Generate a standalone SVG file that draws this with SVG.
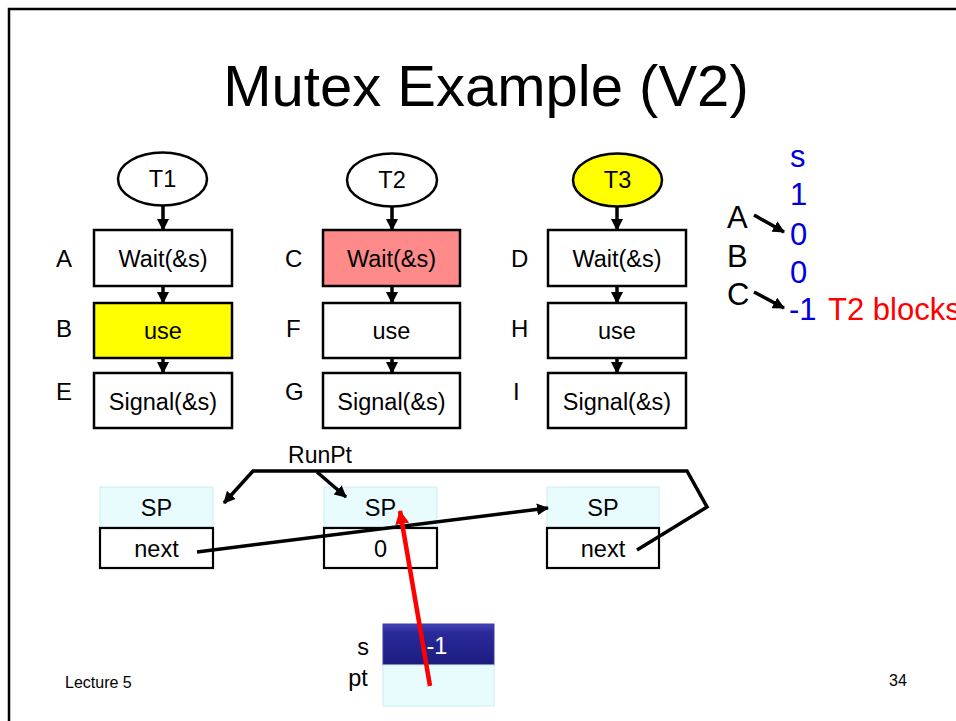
<svg xmlns="http://www.w3.org/2000/svg" width="956" height="721" viewBox="0 0 956 721">
<defs>
<style>
text{font-family:"Liberation Sans",Arial,sans-serif;fill:#000}
.bx{fill:#fff;stroke:#000;stroke-width:2.5}
.lbl{font-size:24px}
.t{font-size:23.5px;text-anchor:middle}
.cy{fill:#E8FBFD;stroke:#CDECF0;stroke-width:1}
.nx{fill:#fff;stroke:#000;stroke-width:2.2}
.ln{fill:none;stroke:#000;stroke-width:3.5;stroke-linejoin:miter}
.blue{fill:#0000DD;font-size:31px}
</style>
<marker id="ah" markerUnits="userSpaceOnUse" markerWidth="12" markerHeight="12" refX="11" refY="6" orient="auto"><path d="M0,0 L12,6 L0,12 z" fill="#000"/></marker>
<marker id="ahr" markerUnits="userSpaceOnUse" markerWidth="14" markerHeight="14" refX="13" refY="7" orient="auto"><path d="M0,0 L14,7 L0,14 z" fill="#f00"/></marker>
<linearGradient id="gb" x1="0" y1="0" x2="0" y2="1"><stop offset="0" stop-color="#4444B8"/><stop offset="0.2" stop-color="#2A2A9C"/><stop offset="1" stop-color="#1C1C7E"/></linearGradient>
</defs>

<g id="frame"><path d="M9,721 L9,9 L956,9" fill="none" stroke="#000" stroke-width="2.5"/></g>

<g id="title"><text x="486" y="106" font-size="58" text-anchor="middle">Mutex Example (V2)</text></g>

<g id="T1"><ellipse cx="162.5" cy="179" rx="44.5" ry="26.5" fill="#fff" stroke="#000" stroke-width="2.5"/><text class="t" x="162.5" y="187">T1</text></g>
<g id="T2"><ellipse cx="392" cy="180" rx="45" ry="26.5" fill="#fff" stroke="#000" stroke-width="2.5"/><text class="t" x="392" y="188">T2</text></g>
<g id="T3"><ellipse cx="617.5" cy="180" rx="44.5" ry="26.5" fill="#FFFF00" stroke="#000" stroke-width="2.5"/><text class="t" x="617.5" y="188">T3</text></g>

<g id="A"><rect class="bx" x="94" y="230" width="138" height="56"/><text class="t" x="163" y="267">Wait(&amp;s)</text><text class="lbl" x="56" y="267">A</text></g>
<g id="B"><rect class="bx" x="94" y="303" width="138" height="55" style="fill:#FFFF00"/><text class="t" x="163" y="339">use</text><text class="lbl" x="56" y="337">B</text></g>
<g id="E"><rect class="bx" x="94" y="373" width="138" height="55"/><text class="t" x="163" y="410">Signal(&amp;s)</text><text class="lbl" x="56" y="400">E</text></g>

<g id="C"><rect class="bx" x="323" y="230" width="137" height="56" style="fill:#FF8A8A"/><text class="t" x="391.5" y="267">Wait(&amp;s)</text><text class="lbl" x="285" y="267">C</text></g>
<g id="F"><rect class="bx" x="323" y="303" width="137" height="55"/><text class="t" x="391.5" y="339">use</text><text class="lbl" x="286" y="337">F</text></g>
<g id="G"><rect class="bx" x="323" y="373" width="137" height="55"/><text class="t" x="391.5" y="410">Signal(&amp;s)</text><text class="lbl" x="285" y="400">G</text></g>

<g id="D"><rect class="bx" x="548" y="230" width="138" height="56"/><text class="t" x="617" y="267">Wait(&amp;s)</text><text class="lbl" x="511" y="267">D</text></g>
<g id="H"><rect class="bx" x="548" y="303" width="138" height="55"/><text class="t" x="617" y="339">use</text><text class="lbl" x="511" y="337">H</text></g>
<g id="I"><rect class="bx" x="548" y="373" width="138" height="55"/><text class="t" x="617" y="410">Signal(&amp;s)</text><text class="lbl" x="513" y="400">I</text></g>

<g id="trace">
<text class="blue" x="790" y="167">s</text>
<text class="blue" x="790" y="205">1</text>
<text class="blue" x="790" y="245">0</text>
<text class="blue" x="790" y="283">0</text>
<text class="blue" x="789" y="320">-1</text>
<text x="828" y="320" font-size="31" style="fill:#FF0000">T2 blocks</text>
<text x="727" y="228" font-size="31">A</text>
<text x="727" y="267" font-size="31">B</text>
<text x="727" y="305" font-size="31">C</text>
</g>

<g id="box1"><rect class="cy" x="100" y="487" width="113" height="40"/><text class="t" x="156.5" y="516">SP</text><rect class="nx" x="100" y="528" width="113" height="40"/><text class="t" x="156.5" y="557">next</text></g>
<g id="box2"><rect class="cy" x="324" y="487" width="113" height="40"/><text class="t" x="380.5" y="516">SP</text><rect class="nx" x="324" y="528" width="113" height="40"/><text class="t" x="380.5" y="557">0</text></g>
<g id="box3"><rect class="cy" x="547" y="487" width="112" height="40"/><text class="t" x="603" y="516">SP</text><rect class="nx" x="547" y="528" width="112" height="40"/><text class="t" x="603" y="557">next</text></g>

<g id="runpt"><text x="320" y="463" font-size="23" text-anchor="middle">RunPt</text></g>

<g id="sem">
<rect x="383" y="624" width="111" height="41" fill="url(#gb)" stroke="#3A3AA8" stroke-width="1"/>
<text x="437" y="654" font-size="23.5" text-anchor="middle" style="fill:#fff">-1</text>
<rect class="cy" x="383" y="665" width="111" height="41"/>
<text x="363" y="655" font-size="23.5" text-anchor="middle">s</text>
<text x="358" y="686" font-size="23.5" text-anchor="middle">pt</text>
</g>

<g id="footer">
<text x="65" y="688" font-size="16">Lecture 5</text>
<text x="898" y="686" font-size="16" text-anchor="middle">34</text>
</g>

<g id="connectors">
<line class="ln" x1="163" y1="206" x2="163" y2="230" marker-end="url(#ah)"/>
<line class="ln" x1="163" y1="286" x2="163" y2="303" marker-end="url(#ah)"/>
<line class="ln" x1="163" y1="358" x2="163" y2="373" marker-end="url(#ah)"/>
<line class="ln" x1="392" y1="207" x2="392" y2="230" marker-end="url(#ah)"/>
<line class="ln" x1="392" y1="286" x2="392" y2="303" marker-end="url(#ah)"/>
<line class="ln" x1="392" y1="358" x2="392" y2="373" marker-end="url(#ah)"/>
<line class="ln" x1="617" y1="207" x2="617" y2="230" marker-end="url(#ah)"/>
<line class="ln" x1="617" y1="286" x2="617" y2="303" marker-end="url(#ah)"/>
<line class="ln" x1="617" y1="358" x2="617" y2="373" marker-end="url(#ah)"/>
<line class="ln" x1="754" y1="215" x2="784" y2="232" marker-end="url(#ah)"/>
<line class="ln" x1="754" y1="292" x2="784" y2="308" marker-end="url(#ah)"/>
<polyline class="ln" points="637,550 707,507 687,471 253,471 224,503" marker-end="url(#ah)"/>
<line class="ln" x1="317" y1="472" x2="346" y2="497" marker-end="url(#ah)"/>
<line class="ln" x1="197" y1="552" x2="548" y2="508" marker-end="url(#ah)"/>
<line x1="430" y1="686" x2="400" y2="511" stroke="#f00" stroke-width="4.5" marker-end="url(#ahr)"/>
</g>
</svg>
